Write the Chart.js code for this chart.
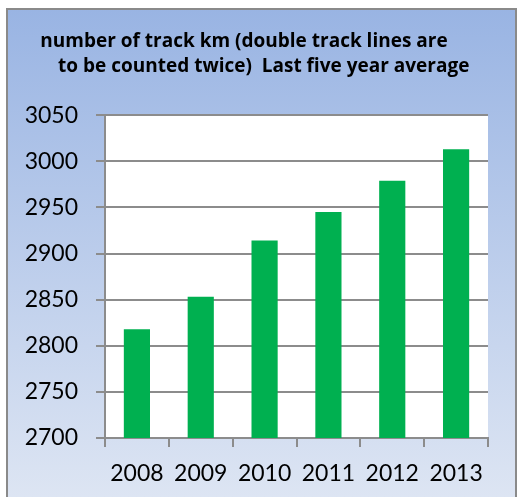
<!DOCTYPE html>
<html>
<head>
<meta charset="utf-8">
<script src="https://cdn.jsdelivr.net/npm/chart.js@4"></script>
<style>
  html, body { margin: 0; padding: 0; background: #ffffff; }
  #wrap { width: 517px; height: 497px; }
</style>
</head>
<body>
<div id="wrap"><canvas id="trackChart" width="517" height="497"></canvas></div>
<script>
// Data
const years = ['2008', '2009', '2010', '2011', '2012', '2013'];
const trackKm = [2818, 2853, 2914, 2945, 2979, 3013];
const titleLines = [
  'number of track km (double track lines are',
  '        to be counted twice)  Last five year average'
];
const yMin = 2700;
const yMax = 3050;
const yStep = 50;

const gridGray = '#8c8c8c';
const fontFamily = 'Lato, "Liberation Sans", sans-serif';

// Background: blue gradient panel with a gray frame, white plot area
const panelBackground = {
  id: 'panelBackground',
  beforeDraw(chart) {
    const { ctx, chartArea } = chart;
    ctx.save();
    ctx.fillStyle = '#ffffff';
    ctx.fillRect(0, 0, chart.width, chart.height);

    const grad = ctx.createLinearGradient(0, 9, 0, 497);
    grad.addColorStop(0, '#99b4e3');
    grad.addColorStop(1, '#dde5f3');
    ctx.fillStyle = grad;
    ctx.fillRect(8, 10, 507, 500);

    ctx.strokeStyle = '#8a8a8a';
    ctx.lineWidth = 2;
    ctx.strokeRect(7, 9, 509, 510);

    ctx.fillStyle = '#ffffff';
    ctx.fillRect(chartArea.left, chartArea.top, chartArea.right - chartArea.left, chartArea.bottom - chartArea.top);
    ctx.restore();
  }
};

const chart = new Chart(document.getElementById('trackChart'), {
  type: 'bar',
  data: {
    labels: years,
    datasets: [{
      data: trackKm,
      backgroundColor: '#00b050',
      barPercentage: 0.41,
      categoryPercentage: 1
    }]
  },
  options: {
    responsive: false,
    animation: false,
    layout: {
      padding: { left: 0, right: 29, top: 0, bottom: 0 }
    },
    plugins: {
      legend: { display: false },
      tooltip: { enabled: false },
      title: {
        display: true,
        text: titleLines,
        color: '#000000',
        font: { family: '"Open Sans", sans-serif', size: 19, weight: 'bold', lineHeight: 1.32 },
        padding: { top: 29, bottom: 36 }
      }
    },
    scales: {
      x: {
        grid: {
          offset: true,
          drawOnChartArea: false,
          drawTicks: true,
          tickLength: 9,
          color: gridGray,
          lineWidth: 2
        },
        border: { display: true, color: gridGray, width: 2 },
        ticks: {
          color: '#000000',
          padding: 13,
          font: { family: fontFamily, size: 23 }
        },
        afterFit(scale) { scale.height = 59; }
      },
      y: {
        min: yMin,
        max: yMax,
        grid: {
          color: gridGray,
          lineWidth: 2,
          drawTicks: true,
          tickLength: 9
        },
        border: { display: true, color: gridGray, width: 2 },
        ticks: {
          stepSize: yStep,
          color: '#000000',
          padding: 18,
          font: { family: fontFamily, size: 23 },
          callback: (value) => String(value)
        },
        afterFit(scale) { scale.width = 105; }
      }
    }
  },
  plugins: [panelBackground]
});
</script>
</body>
</html>
